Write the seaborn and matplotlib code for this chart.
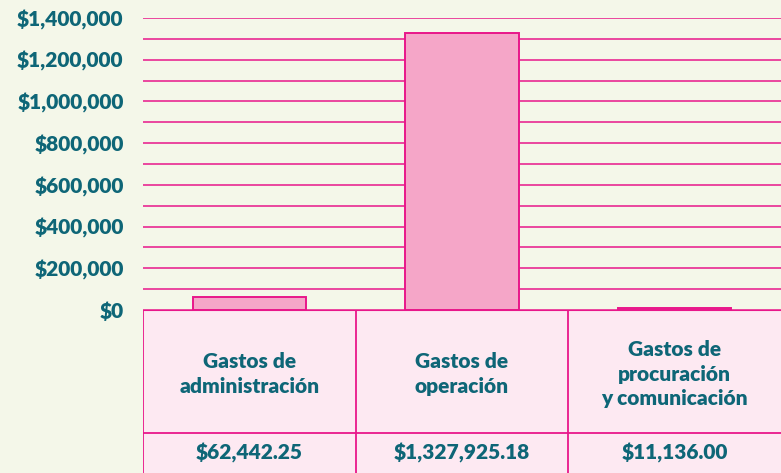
import pandas as pd
import seaborn as sns
import matplotlib.pyplot as plt
from matplotlib.ticker import FuncFormatter, MultipleLocator

# data
categorias = ['Gastos de\nadministración', 'Gastos de\noperación',
              'Gastos de\nprocuración\ny comunicación']
montos = [62442.25, 1327925.18, 11136.00]
etiquetas_montos = ['$62,442.25', '$1,327,925.18', '$11,136.00']

BG = '#f4f7e9'
MAGENTA = '#e8178a'
BAR = '#f5a6c8'
CELL = '#fde9f2'
TEAL = '#0e6677'

sns.set_theme(style='white')
plt.rcParams['font.family'] = ['Lato', 'DejaVu Sans']

df = pd.DataFrame({'cat': categorias, 'monto': montos})

fig = plt.figure(figsize=(7.81, 4.73), dpi=100, facecolor=BG)
ax = fig.add_axes([143 / 781, 163 / 473, 638 / 781, 292 / 473])
ax.set_facecolor(BG)

sns.barplot(data=df, x='cat', y='monto', ax=ax, color=BAR, width=0.533,
            edgecolor=MAGENTA, linewidth=1.4, saturation=1, zorder=3)

ax.set_xlim(-0.5, 2.5)
ax.set_ylim(0, 1400000)
ax.yaxis.set_major_locator(MultipleLocator(200000))
ax.yaxis.set_minor_locator(MultipleLocator(100000))
ax.yaxis.set_major_formatter(FuncFormatter(lambda v, p: f'${v:,.0f}'))
ax.grid(True, which='both', axis='y', color=MAGENTA, linewidth=1.1, zorder=0)
ax.tick_params(axis='y', which='both', length=0, pad=14, labelsize=15,
               labelcolor=TEAL)
for lab in ax.get_yticklabels():
    lab.set_fontweight('heavy')
ax.set_xticks([])
ax.set_xlabel('')
ax.set_ylabel('')
for s in ax.spines.values():
    s.set_visible(False)

# table below the chart
tab = fig.add_axes([143 / 781, 0, 638 / 781, 163 / 473])
tab.set_xlim(-0.5, 2.5)
tab.set_ylim(0, 163)
tab.axis('off')
tab.axhspan(0, 163, color=CELL, zorder=0)
tab.axhline(163, color=MAGENTA, linewidth=1.5)
tab.axhline(40, color=MAGENTA, linewidth=1.3)
for xv in [-0.5, 0.5, 1.5]:
    tab.axvline(xv, color=MAGENTA, linewidth=1.3)

for i, (c, v) in enumerate(zip(categorias, etiquetas_montos)):
    tab.text(i, 99, c, ha='center', va='center', color=TEAL, fontsize=15,
             fontweight='heavy', linespacing=1.35)
    tab.text(i, 20, v, ha='center', va='center', color=TEAL, fontsize=15,
             fontweight='heavy')

fig.savefig('out.png', dpi=100, facecolor=BG)
